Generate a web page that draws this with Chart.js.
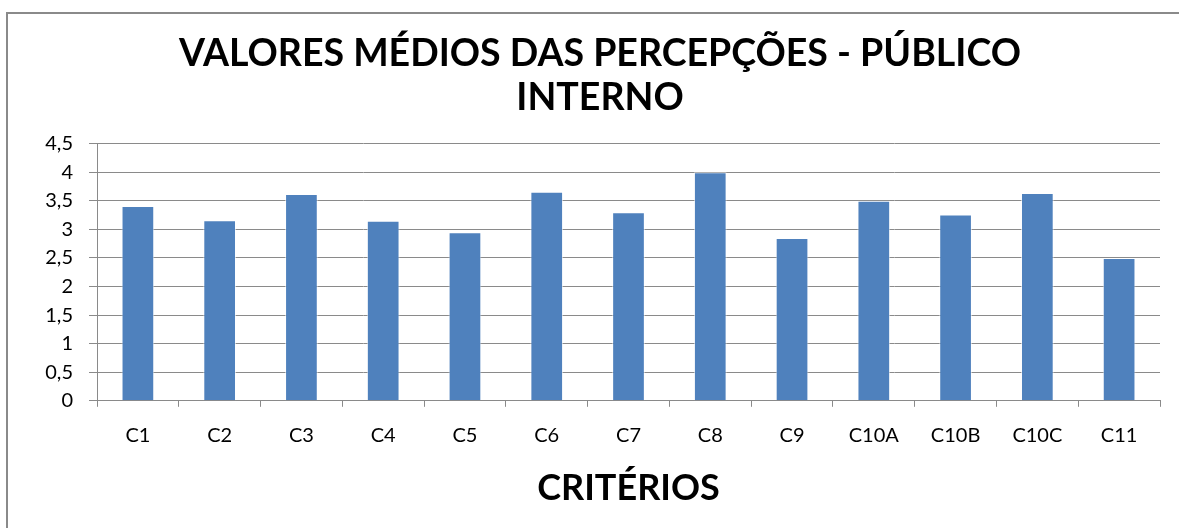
<!DOCTYPE html>
<html>
<head>
<meta charset="utf-8">
<script src="https://cdn.jsdelivr.net/npm/chart.js"></script>
<style>
  html, body { margin: 0; padding: 0; background: #fff; }
  #wrap { position: relative; width: 1179px; height: 528px; overflow: hidden; }
  #frame { position: absolute; left: 6px; top: 12px; width: 1300px; height: 700px; border: 2px solid #8a8a8a; }
  #chart { position: absolute; left: 0; top: 0; }
</style>
</head>
<body>
<div id="wrap">
  <div id="frame"></div>
  <canvas id="chart" width="1179" height="528"></canvas>
</div>
<script>
// categories and mean values
const criterios = ['C1', 'C2', 'C3', 'C4', 'C5', 'C6', 'C7', 'C8', 'C9', 'C10A', 'C10B', 'C10C', 'C11'];
const valoresMedios = [3.41, 3.16, 3.62, 3.15, 2.95, 3.66, 3.30, 4.0, 2.85, 3.5, 3.26, 3.64, 2.5];
const yTicks = [0, 0.5, 1, 1.5, 2, 2.5, 3, 3.5, 4, 4.5];

const gridColor = '#8a8a8a';
const fontFamily = 'Lato, "Open Sans", sans-serif';

const ctx = document.getElementById('chart').getContext('2d');
const chart = new Chart(ctx, {
  type: 'bar',
  data: {
    labels: criterios,
    datasets: [{
      label: 'Valores médios',
      data: valoresMedios,
      backgroundColor: '#4F81BD',
      borderColor: 'rgba(255,255,255,0.6)',
      borderWidth: 1,
      categoryPercentage: 1,
      barPercentage: 0.4
    }]
  },
  options: {
    responsive: false,
    animation: false,
    layout: { padding: { left: 40, right: 19, top: 0, bottom: 18 } },
    plugins: {
      legend: { display: false },
      tooltip: { enabled: false },
      title: {
        display: true,
        text: ['VALORES MÉDIOS DAS PERCEPÇÕES - PÚBLICO', 'INTERNO'],
        color: '#000',
        font: { family: fontFamily, size: 37.5, weight: 'bold', lineHeight: 1.17 },
        padding: { top: 32, bottom: 24 }
      }
    },
    scales: {
      x: {
        grid: {
          offset: true,
          drawOnChartArea: false,
          color: gridColor,
          tickLength: 6
        },
        border: { color: gridColor, width: 1 },
        ticks: {
          color: '#000',
          padding: 17,
          autoSkip: false,
          maxRotation: 0,
          font: { family: fontFamily, size: 20 }
        },
        title: {
          display: true,
          text: 'CRITÉRIOS',
          color: '#000',
          font: { family: fontFamily, size: 36, weight: 'bold', lineHeight: 1.2 },
          padding: { top: 2, bottom: 0 }
        }
      },
      y: {
        min: 0,
        max: 4.5,
        afterBuildTicks: (scale) => {
          scale.ticks = yTicks.map(v => ({ value: v }));
        },
        afterFit: (scale) => { scale.width = 57; },
        grid: { color: gridColor, tickLength: 8 },
        border: { color: gridColor, width: 1 },
        ticks: {
          color: '#000',
          padding: 16,
          autoSkip: false,
          font: { family: fontFamily, size: 20 },
          callback: (v) => String(v).replace('.', ',')
        }
      }
    }
  }
});
</script>
</body>
</html>
